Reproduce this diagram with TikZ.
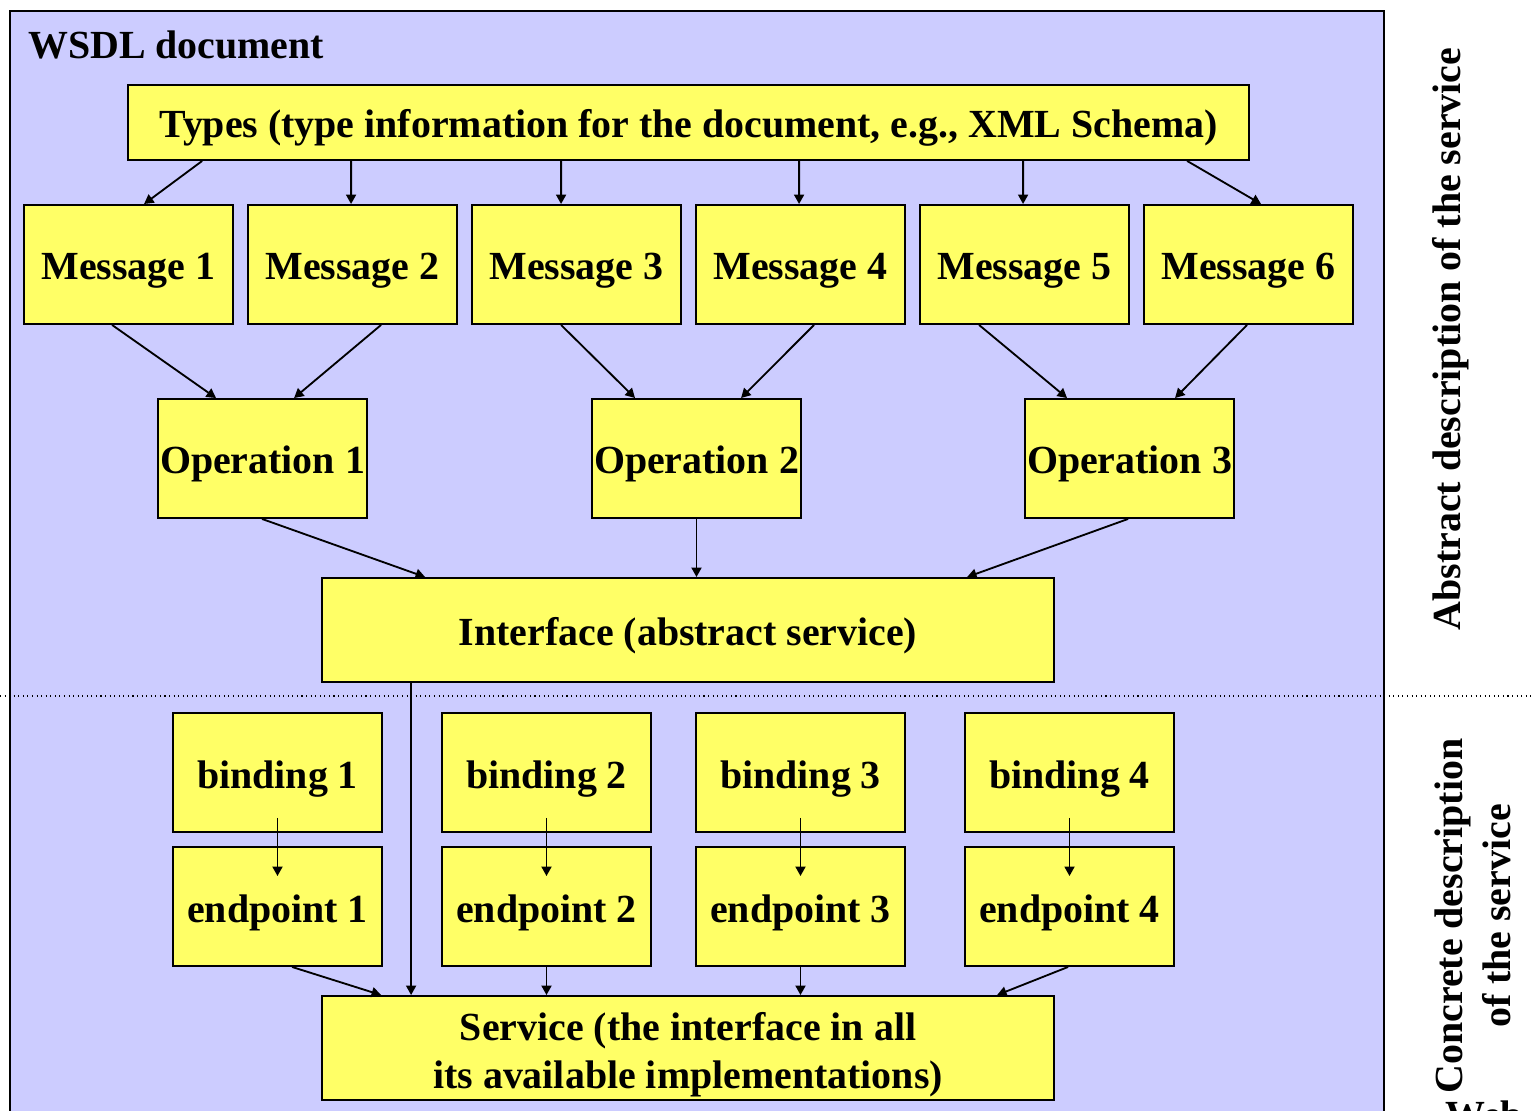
\documentclass[tikz,border=0pt]{standalone}
\usepackage{fontspec}
\setmainfont{Liberation Serif}
\usetikzlibrary{calc,arrows.meta}
\definecolor{bgblue}{RGB}{204,204,255}
\definecolor{boxyellow}{RGB}{255,255,102}
\tikzset{
  txt/.style={font=\fontsize{22.7pt}{27.6pt}\selectfont\bfseries},
  box/.style={draw=black, fill=boxyellow, line width=1.1pt, inner sep=0pt, txt},
  oneline/.style={text height=0.82cm, text depth=0.2cm},
  small/.style={box, oneline, minimum width=4.18cm, minimum height=2.38cm},
  wide/.style={box, minimum width=14.64cm, minimum height=2.08cm},
  arr/.style={line width=1.05pt, -{Triangle[length=0.19cm,width=0.2cm]}},
}
\begin{document}
\begin{tikzpicture}[x=0.02cm, y=-0.02cm]
\useasboundingbox (0,0) rectangle (1531,1111);
% outer document box
\draw[fill=bgblue, line width=1.1pt] (10,11) rectangle (1384,1130);
\node[txt, anchor=base west, inner sep=0pt] (title) at (28,59) {WSDL document};
% dotted separator
\coordinate (sepL) at (0,696);
\coordinate (sepR) at (1531,696);
\draw[dotted, line width=0.6pt] (sepL) -- (sepR);

% Types
\node[box, oneline, minimum width=22.42cm, minimum height=1.5cm] (t) at (688.5,122.5) {Types (type information for the document, e.g., XML Schema)};
% Messages
\node[small] (m1) at (128.5,264.5) {Message 1};
\node[small] (m2) at (352.5,264.5) {Message 2};
\node[small] (m3) at (576.5,264.5) {Message 3};
\node[small] (m4) at (800.5,264.5) {Message 4};
\node[small] (m5) at (1024.5,264.5) {Message 5};
\node[small] (m6) at (1248.5,264.5) {Message 6};
% Operations
\node[small] (o1) at (262.5,458.5) {Operation 1};
\node[small] (o2) at (696.5,458.5) {Operation 2};
\node[small] (o3) at (1129.5,458.5) {Operation 3};
% Interface
\node[wide, oneline] (i) at (688,630) {Interface (abstract service)};
% bindings and endpoints
\node[small] (b1) at (277.5,772.5) {binding 1};
\node[small] (b2) at (546.5,772.5) {binding 2};
\node[small] (b3) at (800.5,772.5) {binding 3};
\node[small] (b4) at (1069.5,772.5) {binding 4};
\node[small] (e1) at (277.5,906.5) {endpoint 1};
\node[small] (e2) at (546.5,906.5) {endpoint 2};
\node[small] (e3) at (800.5,906.5) {endpoint 3};
\node[small] (e4) at (1069.5,906.5) {endpoint 4};
% Service
\node[wide, text height=1.29cm, text depth=0.65cm] (s) at (688,1048) {\begin{tabular}{@{}c@{}}Service (the interface in all\\its available implementations)\end{tabular}};

% Types -> Messages
\draw[arr] ($(t.south west)+(75,0)$) -- ($(m1.north west)+(121,0)$);
\draw[arr] ($(t.south west)+(224,0)$) -- ($(m2.north west)+(104,0)$);
\draw[arr] ($(t.south west)+(434,0)$) -- ($(m3.north west)+(90,0)$);
\draw[arr] ($(t.south west)+(672,0)$) -- ($(m4.north west)+(104,0)$);
\draw[arr] ($(t.south west)+(896,0)$) -- ($(m5.north west)+(104,0)$);
\draw[arr] ($(t.south west)+(1060,0)$) -- ($(m6.north west)+(118,0)$);
% Messages -> Operations
\draw[arr] ($(m1.south west)+(89,0)$) -- ($(o1.north west)+(59,0)$);
\draw[arr] ($(m2.south west)+(134,0)$) -- ($(o1.north west)+(137,0)$);
\draw[arr] ($(m3.south west)+(90,0)$) -- ($(o2.north west)+(44,0)$);
\draw[arr] ($(m4.south west)+(119,0)$) -- ($(o2.north west)+(150,0)$);
\draw[arr] ($(m5.south west)+(60,0)$) -- ($(o3.north west)+(43,0)$);
\draw[arr] ($(m6.south west)+(104,0)$) -- ($(o3.north west)+(151,0)$);
% Operations -> Interface
\draw[arr] ($(o1.south west)+(105,0)$) -- ($(i.north west)+(104,0)$);
\draw[arr] (o2.south) -- (o2.south |- i.north);
\draw[arr] ($(o3.south west)+(104,0)$) -- ($(i.north west)+(646,0)$);
% Interface -> Service
\draw[arr] ($(i.south west)+(90,0)$) -- ($(s.north west)+(90,0)$);
% bindings -> endpoints
\draw[arr] ($(b1.south)+(0,-15)$) -- ($(e1.north)+(0,30)$);
\draw[arr] ($(b2.south)+(0,-15)$) -- ($(e2.north)+(0,30)$);
\draw[arr] ($(b3.south)+(0,-15)$) -- ($(e3.north)+(0,30)$);
\draw[arr] ($(b4.south)+(0,-15)$) -- ($(e4.north)+(0,30)$);
% endpoints -> Service
\draw[arr] ($(e1.south west)+(120,0)$) -- ($(s.north west)+(60,0)$);
\draw[arr] (e2.south) -- (e2.south |- s.north);
\draw[arr] (e3.south) -- (e3.south |- s.north);
\draw[arr] ($(e4.south west)+(104,0)$) -- ($(s.north west)+(676,0)$);

% side labels
\node[txt, rotate=90] (abs) at (1451,339) {Abstract description of the service};
\node[txt, rotate=90, align=center] (con) at (1473,916) {Concrete description\\of the service};
\node[txt, anchor=base west, inner sep=0pt] (web) at (1445,1128) {Web service};
\end{tikzpicture}
\end{document}
